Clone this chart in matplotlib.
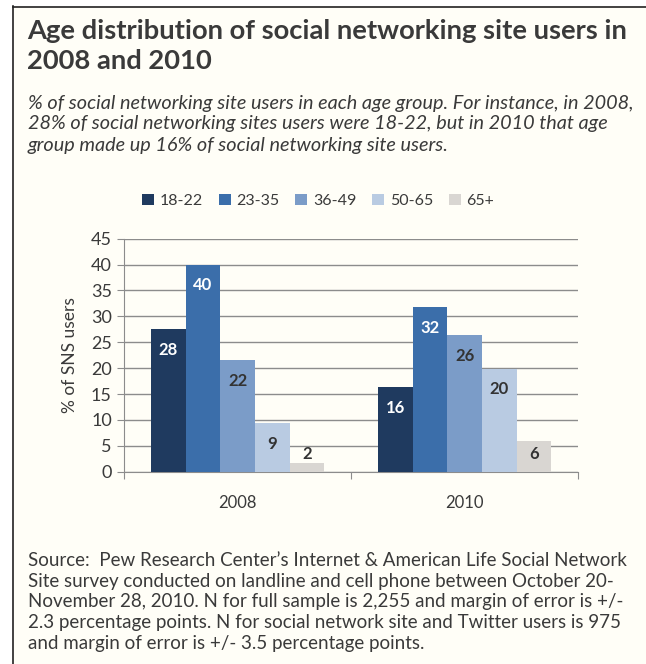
import numpy as np
import matplotlib
matplotlib.use('Agg')
import matplotlib.pyplot as plt
from matplotlib.lines import Line2D

# === Data ===
years = ['2008', '2010']
age_groups = ['18-22', '23-35', '36-49', '50-65', '65+']
heights = {
    '18-22': [27.5, 16.3],
    '23-35': [40.0, 31.8],
    '36-49': [21.5, 26.4],
    '50-65': [9.4, 19.9],
    '65+':   [1.7, 6.0],
}
labels = {
    '18-22': [28, 16],
    '23-35': [40, 32],
    '36-49': [22, 26],
    '50-65': [9, 20],
    '65+':   [2, 6],
}
yticks = [0, 5, 10, 15, 20, 25, 30, 35, 40, 45]

# === Style ===
colors = ['#1f3a5f', '#3b6eaa', '#7b9cc8', '#b9cbe2', '#d9d6d2']
label_colors = ['white', 'white', '#333333', '#333333', '#333333']
bg = '#fffef7'
text_col = '#3a3a3a'
grid_col = '#8c8c8c'
plt.rcParams['font.family'] = ['Lato', 'DejaVu Sans']

W, H = 646, 664
fig = plt.figure(figsize=(W / 100, H / 100), dpi=100)
fig.patch.set_facecolor('white')

# cream panel with a border on the left and top
fig.patches.append(plt.Rectangle((12 / W, 0), 1, 1 - 6 / H, transform=fig.transFigure,
                                 facecolor=bg, edgecolor='none', zorder=-5))
fig.add_artist(Line2D([12.5 / W, 12.5 / W], [0, 1 - 6 / H], transform=fig.transFigure,
                      color='#222222', lw=1.2))
fig.add_artist(Line2D([12.5 / W, 1], [1 - 6.5 / H, 1 - 6.5 / H], transform=fig.transFigure,
                      color='#222222', lw=1.2))

def fx(px):
    return px / W

def fy(px):
    return 1 - px / H

# === Titles ===
fig.text(fx(27), fy(31), 'Age distribution of social networking site users in',
         fontsize=19.7, fontweight='bold', color=text_col, va='center')
fig.text(fx(27), fy(61), '2008 and 2010',
         fontsize=19.7, fontweight='bold', color=text_col, va='center')
sub = ['% of social networking site users in each age group. For instance, in 2008,',
       '28% of social networking sites users were 18-22, but in 2010 that age',
       'group made up 16% of social networking site users.']
for i, line in enumerate(sub):
    fig.text(fx(28), fy(103 + 21 * i), line, fontsize=14.3, fontstyle='italic',
             color=text_col, va='center')

src = ['Source:  Pew Research Center\u2019s Internet & American Life Social Network',
       'Site survey conducted on landline and cell phone between October 20-',
       'November 28, 2010. N for full sample is 2,255 and margin of error is +/-',
       '2.3 percentage points. N for social network site and Twitter users is 975',
       'and margin of error is +/- 3.5 percentage points.']
for i, line in enumerate(src):
    fig.text(fx(28), fy(561 + 20.5 * i), line, fontsize=13.5, color=text_col, va='center')

# === Chart ===
ax = fig.add_axes([fx(124.3), fy(471.7), fx(578 - 124.3), (471.7 - 238.7) / H])
ax.set_facecolor('none')

x = np.arange(len(years))
width = 0.153
n = len(age_groups)
for i, grp in enumerate(age_groups):
    pos = x + (i - (n - 1) / 2) * width
    ax.bar(pos, heights[grp], width=width, color=colors[i], label=grp, zorder=3)
    for xp, h, lab in zip(pos, heights[grp], labels[grp]):
        ax.text(xp, max(h - 4, 3.5), str(lab), ha='center', va='center',
                fontsize=12, fontweight='bold', color=label_colors[i], zorder=4)

ax.set_xlim(-0.5, 1.5)
ax.set_ylim(0, 45)
ax.set_yticks(yticks)
ax.yaxis.grid(True, color=grid_col, lw=1)
ax.set_axisbelow(True)
ax.set_xticks([-0.5, 0.5, 1.5])
ax.set_xticklabels([])
ax.set_xticks(x, minor=True)
ax.set_xticklabels(years, minor=True)
ax.tick_params(axis='x', which='minor', length=0, pad=17, labelsize=12, labelcolor=text_col)
ax.tick_params(axis='x', which='major', length=5, color=grid_col, direction='out')
ax.tick_params(axis='y', length=5, color=grid_col, labelsize=13, labelcolor=text_col, pad=4)
for s in ['top', 'right']:
    ax.spines[s].set_visible(False)
for s in ['left', 'bottom']:
    ax.spines[s].set_color(grid_col)
ax.set_ylabel('% of SNS users', fontsize=12.5, color=text_col, labelpad=9)

fig.legend(loc='center', bbox_to_anchor=(fx(318), fy(201)), ncol=5, frameon=False,
           fontsize=11.5, handlelength=0.75, handleheight=0.75, handletextpad=0.35,
           columnspacing=1.0, labelcolor=text_col)

fig.savefig('out.png', dpi=100, facecolor=fig.get_facecolor())
